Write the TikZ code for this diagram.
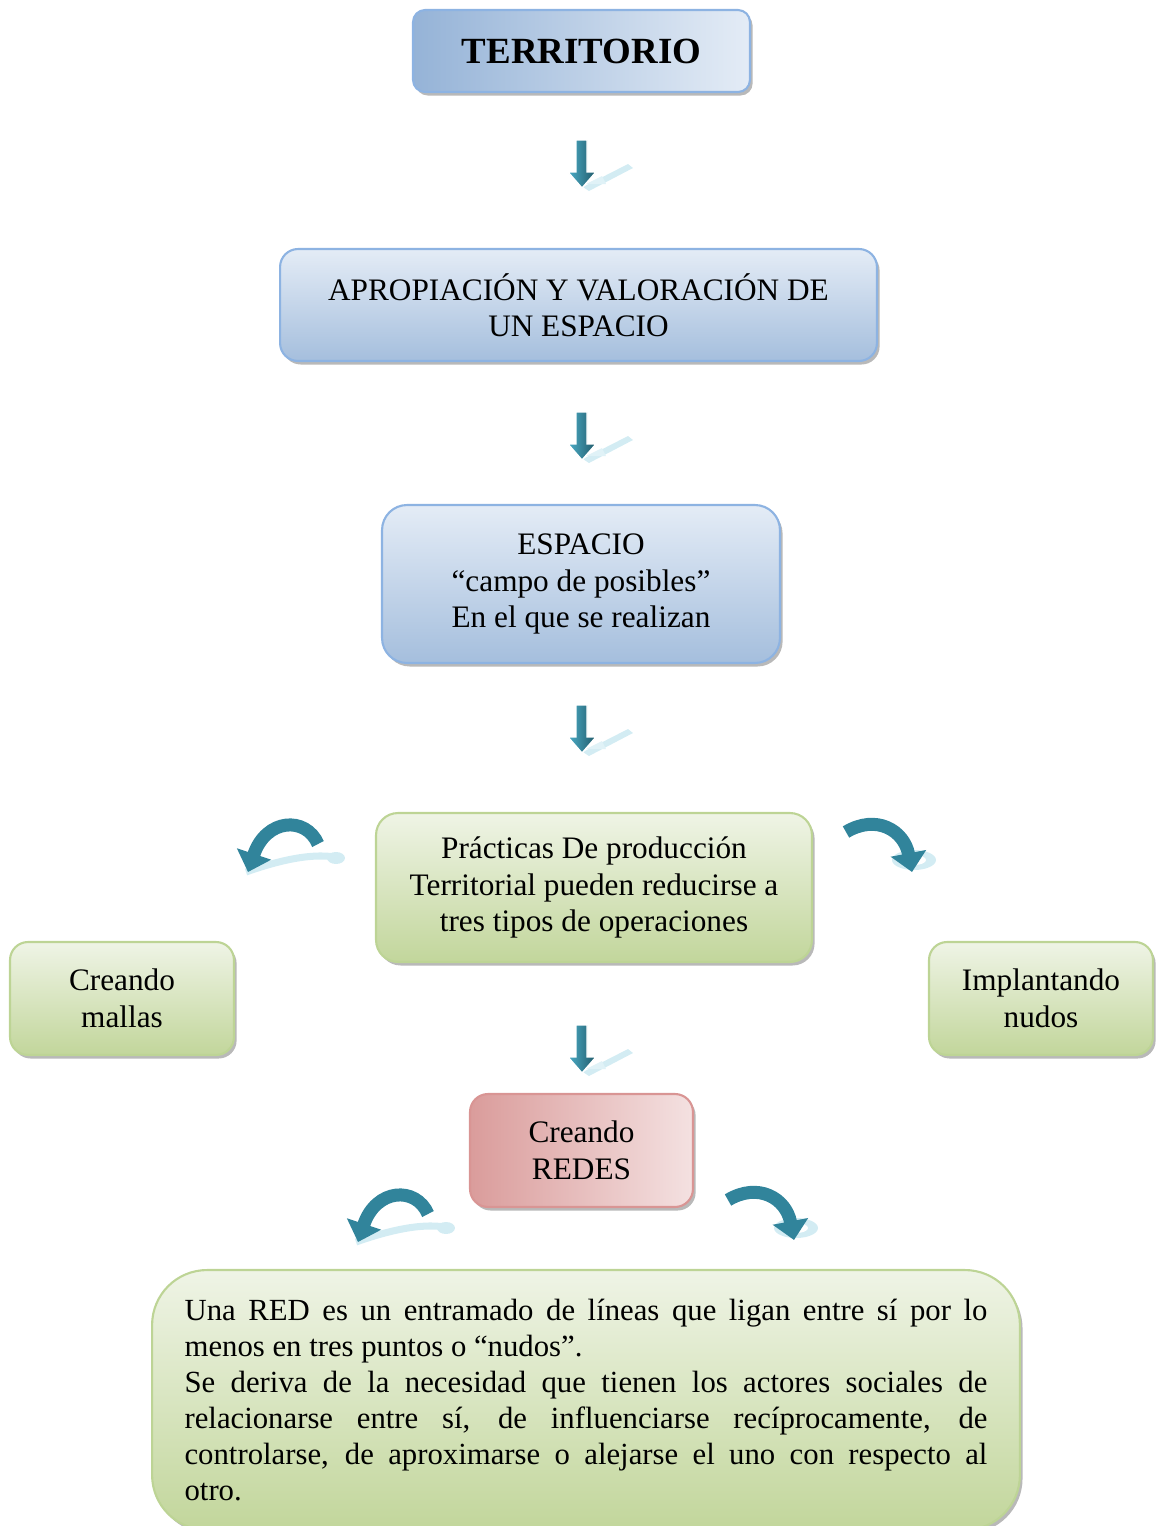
\documentclass[tikz,border=0pt]{standalone}
\usepackage{fontspec}
\setmainfont{Liberation Serif}
\usetikzlibrary{shadows,arrows.meta}

\definecolor{azulosc}{HTML}{95B3D7}
\definecolor{azulcla}{HTML}{E4ECF6}
\definecolor{azulbor}{HTML}{8DB3E2}
\definecolor{verdeosc}{HTML}{C2D69B}
\definecolor{verdecla}{HTML}{EFF4E6}
\definecolor{verdebor}{HTML}{BDD495}
\definecolor{rojoosc}{HTML}{DA9C9B}
\definecolor{rojocla}{HTML}{F4E1E1}
\definecolor{rojobor}{HTML}{D99594}
\definecolor{tealcla}{HTML}{4BACC6}
\definecolor{tealosc}{HTML}{215A6A}
\definecolor{tealmed}{HTML}{31849B}
\definecolor{reflejo}{HTML}{D3ECF3}

\tikzset{
  caja/.style={draw, line width=1.2pt, align=center, inner sep=0pt,
    font=\fontsize{17.8}{20.8}\selectfont,
    drop shadow={shadow xshift=1.5pt, shadow yshift=-2pt, fill=black!55, opacity=0.5}},
  cajaazul/.style={caja, draw=azulbor, top color=azulcla, bottom color=azulosc!85},
  cajatitulo/.style={caja, draw=azulbor, left color=azulosc, right color=azulcla},
  cajaverde/.style={caja, draw=verdebor, shading angle=30, top color=verdecla, bottom color=verdeosc},
  cajaroja/.style={caja, draw=rojobor, left color=rojoosc, right color=rojocla},
  curva/.style={tealmed, line width=0.26cm, -{Triangle[length=0.38cm,width=0.7cm]}},
  pics/flecha/.style={code={
    \fill[reflejo] (1,-1) -- (46,-24) -- (51,-20) -- (7,3) -- cycle;
    \fill[reflejo!70] (4,-4) -- (20,-12) -- (24,-4) -- cycle;
    \shade[left color=tealcla, right color=tealosc, draw=white, line width=0.8pt]
      (-6,-48) -- (5,-48) -- (5,-16) -- (14,-16) -- (0,0) -- (-14,-16) -- (-6,-16) -- cycle;
  }},
  pics/curvaizq/.style={code={
    \draw[reflejo, line width=4pt] (6,50) .. controls (40,38) and (75,30) .. (100,36);
    \fill[reflejo] (96,36) ellipse (9 and 6);
    \draw[curva] (78,22) .. controls (66,-6) and (26,-4) .. (8,50);
  }},
  pics/curvader/.style={code={
    \fill[reflejo] (74,38) ellipse (22 and 10);
    \fill[white] (74,38) ellipse (12 and 5);
    \draw[curva] (6,10) .. controls (36,-8) and (64,8) .. (72,50);
  }}
}

\begin{document}
\begin{tikzpicture}[x=0.02cm, y=-0.02cm]
  %%%%% START %%%%%
  \useasboundingbox (0,0) rectangle (1159,1526);

  \node[cajatitulo, rounded corners=0.24cm, minimum width=6.74cm, minimum height=1.64cm]
    (territorio) at (581.5,51) {\fontsize{21}{25}\selectfont\bfseries TERRITORIO};

  \node[cajaazul, rounded corners=0.36cm, minimum width=11.94cm, minimum height=2.24cm]
    (apropiacion) at (578.5,305) {APROPIACIÓN Y VALORACIÓN DE\\UN ESPACIO};

  \node[cajaazul, rounded corners=0.5cm, minimum width=7.96cm, minimum height=3.16cm]
    (espacio) at (581,584) {ESPACIO\\“campo de posibles”\\En el que se realizan};

  \node[cajaverde, rounded corners=0.44cm, minimum width=8.72cm, minimum height=2.98cm]
    (practicas) at (594,887.5) {Prácticas De producción\\Territorial pueden reducirse a\\tres tipos de operaciones};

  \node[cajaverde, rounded corners=0.36cm, minimum width=4.48cm, minimum height=2.26cm]
    (mallas) at (122,998.5) {Creando\\mallas};

  \node[cajaverde, rounded corners=0.36cm, minimum width=4.48cm, minimum height=2.26cm]
    (nudos) at (1041,998.5) {Implantando\\nudos};

  \node[cajaroja, rounded corners=0.36cm, minimum width=4.46cm, minimum height=2.26cm]
    (redes) at (581.5,1150.5) {Creando\\REDES};

  \node[cajaverde, rounded corners=1.1cm, align=justify, text width=16.06cm,
        inner xsep=0.65cm, minimum height=5.2cm,
        font=\fontsize{17.5}{20.5}\selectfont]
    (definicion) at (586,1400) {Una RED es un entramado de líneas que ligan entre sí por lo\linebreak
      menos en tres puntos o “nudos”.\\
      Se deriva de la necesidad que tienen los actores sociales de\linebreak
      relacionarse entre sí, de influenciarse recíprocamente, de\linebreak
      controlarse, de aproximarse o alejarse el uno con respecto al\linebreak
      otro.};

  % flechas
  \pic at (582,188) {flecha};
  \pic at (582,460) {flecha};
  \pic at (582,753) {flecha};
  \pic at (582,1073) {flecha};

  \pic at (240,822) {curvaizq};
  \pic at (840,822) {curvader};
  \pic at (350,1192) {curvaizq};
  \pic at (722,1190) {curvader};
  %%%%% END %%%%%
\end{tikzpicture}
\end{document}
